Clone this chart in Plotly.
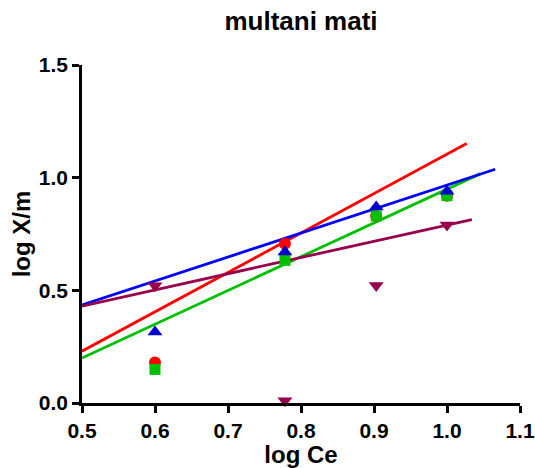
import numpy as np
import plotly.graph_objects as go

# Data
log_ce = [0.6, 0.778, 0.903, 1.0]
red_vals = [0.18, 0.707, 0.83, 0.92]
green_vals = [0.149, 0.633, 0.83, 0.92]
blue_vals = [0.315, 0.67, 0.87, 0.94]
purple_vals = [0.52, 0.01, 0.522, 0.79]

# Fitted line parameters: slope, intercept, x start, x end
red_fit = [1.748, -0.644, 0.5, 1.027]
blue_fit = [1.064, -0.097, 0.5, 1.066]
green_fit = [1.498, -0.549, 0.5, 1.046]
purple_fit = [0.719, 0.0705, 0.5, 1.034]

x_ticks = [0.5, 0.6, 0.7, 0.8, 0.9, 1.0, 1.1]
y_ticks = [0.0, 0.5, 1.0, 1.5]

series = [
    ("red", red_vals, red_fit, "#FF0000", "#FF0000", "circle", 12),
    ("green", green_vals, green_fit, "#00C000", "#00C000", "square", 11),
    ("blue", blue_vals, blue_fit, "#0000FF", "#0000CC", "triangle-up", 13),
    ("purple", purple_vals, purple_fit, "#99004C", "#99004C", "triangle-down", 13),
]

fig = go.Figure()
for name, vals, fit, lc, mc, sym, sz in series:
    xs = np.array([fit[2], fit[3]])
    fig.add_trace(go.Scatter(x=xs, y=fit[0] * xs + fit[1], mode="lines",
                             line=dict(color=lc, width=2.8), showlegend=False,
                             hoverinfo="skip", cliponaxis=False))
for name, vals, fit, lc, mc, sym, sz in series:
    fig.add_trace(go.Scatter(x=log_ce, y=vals, mode="markers", name=name,
                             marker=dict(color=mc, symbol=sym, size=sz, line=dict(width=0)),
                             showlegend=False, cliponaxis=False))

font_family = "Liberation Sans, Arial, sans-serif"
fig.update_layout(
    width=535, height=468,
    margin=dict(l=82, r=15, t=65, b=65, autoexpand=False),
    plot_bgcolor="white", paper_bgcolor="white",
    title=dict(text="<b>multani mati</b>", xref="paper", x=0.5, xanchor="center",
               yref="container", y=0.955, yanchor="middle",
               font=dict(family=font_family, size=26, color="black")),
    xaxis=dict(range=[0.5, 1.1], tickvals=x_ticks, ticktext=[f"<b>{v:.1f}</b>" for v in x_ticks],
               showgrid=False, zeroline=False, showline=True, linecolor="black", linewidth=2.5,
               ticks="outside", ticklen=7, tickwidth=2.5, tickcolor="black", automargin=False,
               tickfont=dict(family=font_family, size=21, color="black"),
               title=dict(text="<b>log Ce</b>", font=dict(family=font_family, size=24, color="black"),
                          standoff=6)),
    yaxis=dict(range=[0, 1.5], tickvals=y_ticks, ticktext=[f"<b>{v:.1f}</b>" for v in y_ticks],
               showgrid=False, zeroline=False, showline=True, linecolor="black", linewidth=2.5,
               ticks="outside", ticklen=7, tickwidth=2.5, tickcolor="black", automargin=False,
               tickfont=dict(family=font_family, size=21, color="black"),
               title=dict(text="<b>log X/m</b>", font=dict(family=font_family, size=24, color="black"),
                          standoff=2)),
)

fig.write_html("out.html")
